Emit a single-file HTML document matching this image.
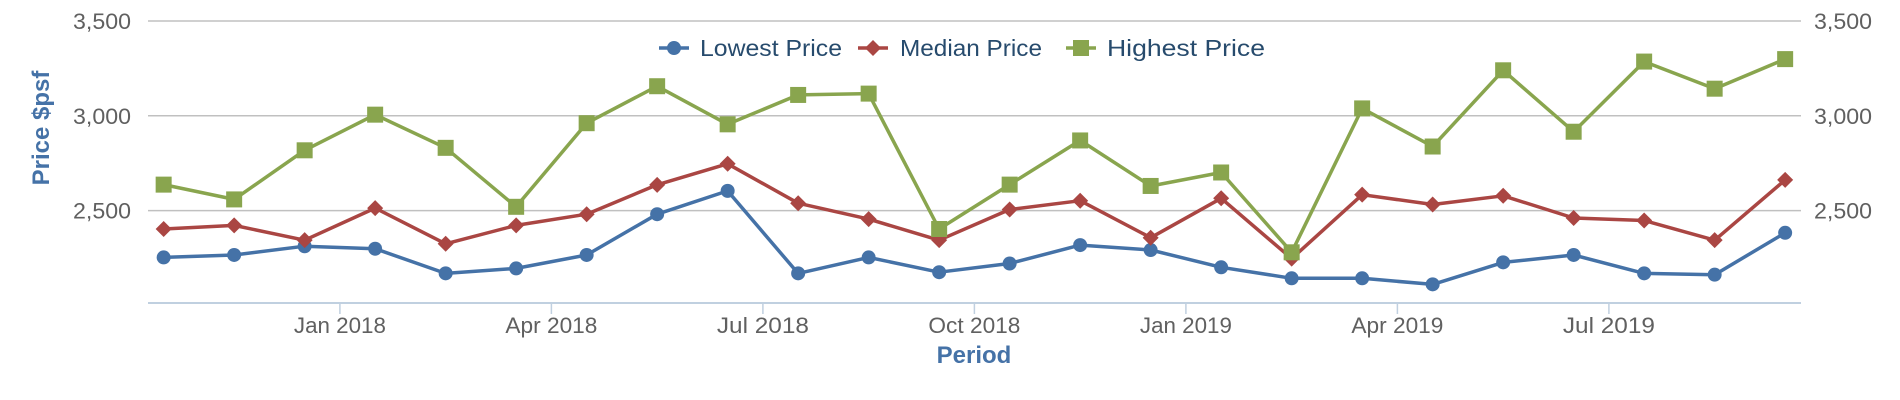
<!DOCTYPE html>
<html><head><meta charset="utf-8"><style>
html,body{margin:0;padding:0;background:#fff;width:1900px;height:400px;overflow:hidden}
svg{display:block;font-family:"Liberation Sans",sans-serif}
</style></head><body>
<svg id="chart" width="1900" height="400" viewBox="0 0 1900 400" xmlns="http://www.w3.org/2000/svg">
<g id="grid"></g>
<g id="axes"></g>
<g id="series"></g>
<g id="legend"></g>
</svg>
<script>
const months = ["Oct 2017","Nov 2017","Dec 2017","Jan 2018","Feb 2018","Mar 2018","Apr 2018","May 2018","Jun 2018","Jul 2018","Aug 2018","Sep 2018","Oct 2018","Nov 2018","Dec 2018","Jan 2019","Feb 2019","Mar 2019","Apr 2019","May 2019","Jun 2019","Jul 2019","Aug 2019","Sep 2019"];
const lowest = [2253,2266,2312,2299,2169,2195,2266,2481,2604,2169,2253,2175,2221,2318,2292,2201,2143,2143,2111,2227,2266,2169,2162,2383];
const median = [2403,2422,2344,2513,2325,2422,2481,2636,2747,2539,2455,2344,2506,2552,2357,2565,2247,2584,2532,2578,2461,2448,2344,2662];
const highest = [2637,2559,2818,3006,2831,2520,2961,3156,2955,3110,3117,2403,2637,2870,2630,2701,2280,3039,2838,3240,2916,3286,3143,3299];
const yTicks = [2500,3000,3500];
const yTickLabels = ["2,500","3,000","3,500"];
const xTickMonths = [3,6,9,12,15,18,21];
const xTickLabels = ["Jan 2018","Apr 2018","Jul 2018","Oct 2018","Jan 2019","Apr 2019","Jul 2019"];

const NS="http://www.w3.org/2000/svg";
const L=148,R=1801,B=303;
function x(m){return 128.4+m*70.5;}
function y(v){return 210.6-(v-2500)*0.1896;}
function mk(tag,attrs,parent,text){const e=document.createElementNS(NS,tag);for(const k in attrs)e.setAttribute(k,attrs[k]);if(text!==undefined)e.textContent=text;parent.appendChild(e);return e;}
const grid=document.getElementById('grid'),axes=document.getElementById('axes'),ser=document.getElementById('series'),leg=document.getElementById('legend');

yTicks.forEach((t,i)=>{
  const g=mk('line',{x1:L,x2:R,y1:y(t),y2:y(t),stroke:'#c0c0c0','stroke-width':1.5},grid);
  
  
  const a=mk('text',{x:73,y:y(t)+8,'font-size':22,fill:'#606060',textLength:58,lengthAdjust:'spacingAndGlyphs'},axes,yTickLabels[i]);
  
  
  const b=mk('text',{x:1814,y:y(t)+8,'font-size':22,fill:'#606060',textLength:58,lengthAdjust:'spacingAndGlyphs'},axes,yTickLabels[i]);
  
  
});
const ax=mk('line',{x1:L,x2:R,y1:B,y2:B,stroke:'#c0d0e0','stroke-width':2},axes);


xTickMonths.forEach((m,i)=>{
  const t=mk('line',{x1:x(m),x2:x(m),y1:B,y2:B+11,stroke:'#c0d0e0','stroke-width':1.5},axes);
  
  
  const l=mk('text',{x:x(m)-46,y:333,'font-size':22,fill:'#606060',textLength:92,lengthAdjust:'spacingAndGlyphs'},axes,xTickLabels[i]);
  
  
});
const yt=mk('text',{x:0,y:0,transform:'translate(49,128) rotate(-90)','text-anchor':'middle','font-size':24,'font-weight':'bold',fill:'#4572a7'},axes,'Price $psf');


const xt=mk('text',{x:974,y:363,'text-anchor':'middle','font-size':24,'font-weight':'bold',fill:'#4572a7'},axes,'Period');



function marker(kind,cx,cy,color,parent){
  let e;
  if(kind==='circle') e=mk('circle',{cx:cx,cy:cy,r:7,fill:color},parent);
  else if(kind==='square') e=mk('rect',{x:cx-8,y:cy-8,width:16,height:16,fill:color},parent);
  else e=mk('path',{d:`M${cx} ${cy-8}L${cx+8} ${cy}L${cx} ${cy+8}L${cx-8} ${cy}Z`,fill:color},parent);
  return e;
}
const defs=[["Lowest Price",lowest,'#4572a7','circle'],["Median Price",median,'#aa4643','diamond'],["Highest Price",highest,'#89a54e','square']];
defs.forEach(([name,vals,color,kind])=>{
  const g=mk('g',{},ser);
  
  
  const pts=vals.map((v,i)=>x(i+0.5).toFixed(1)+','+y(v).toFixed(1)).join(' ');
  const pl=mk('polyline',{points:pts,fill:'none',stroke:color,'stroke-width':3.5,'stroke-linejoin':'round'},g);
  
  
  vals.forEach((v,i)=>{
    const m=marker(kind,x(i+0.5),y(v),color,g);
    
    
  });
});
const legX=[[674,700],[873,900],[1081,1107]];
defs.forEach(([name,vals,color,kind],i)=>{
  const g=mk('g',{},leg);
  
  
  const mx=legX[i][0];
  mk('line',{x1:mx-15,x2:mx+15,y1:48,y2:48,stroke:color,'stroke-width':3.5},g);
  marker(kind,mx,48,color,g);
  mk('text',{x:legX[i][1],y:56,'font-size':23,fill:'#274b6d',textLength:[142,142,158][i],lengthAdjust:'spacingAndGlyphs'},g,name);
});
</script>
</body></html>
